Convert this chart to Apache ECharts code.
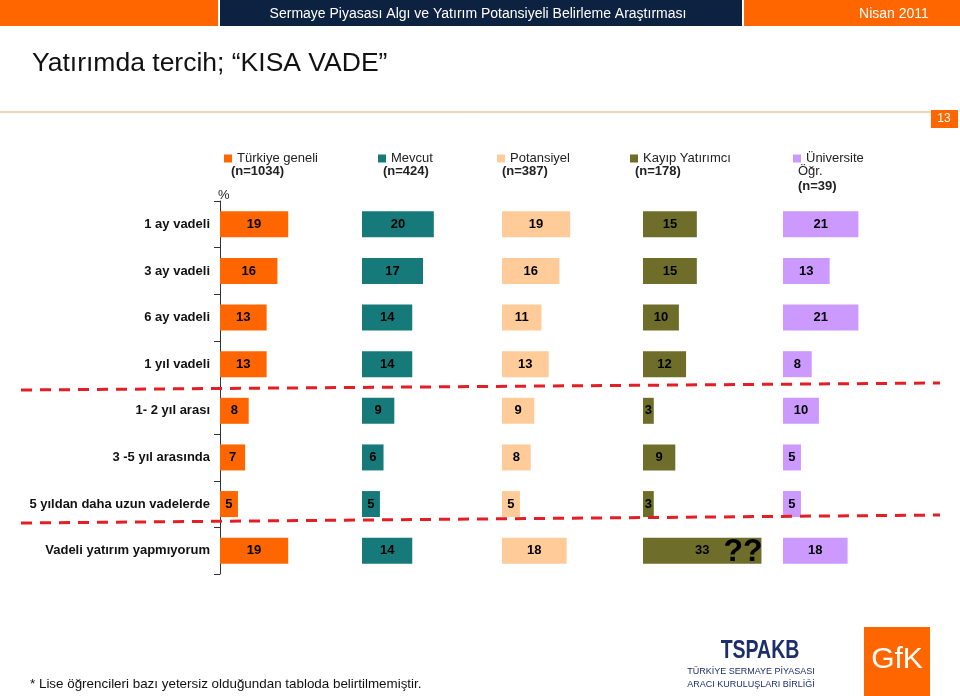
<!DOCTYPE html>
<html>
<head>
<meta charset="utf-8">
<script src="https://cdn.jsdelivr.net/npm/echarts@6.0.0/dist/echarts.min.js"></script>
<style>
  body { margin: 0; background: #fff; }
  #myChart { width: 960px; height: 696px; }
</style>
</head>
<body>
<div id="myChart"></div>
<script>
// kategoriler (yukaridan asagi)
var categories = ['1 ay vadeli', '3 ay vadeli', '6 ay vadeli', '1 yıl vadeli', '1- 2 yıl arası', '3 -5 yıl arasında', '5 yıldan daha uzun vadelerde', 'Vadeli yatırım yapmıyorum']
var groups = ['Türkiye geneli', 'Mevcut', 'Potansiyel', 'Kayıp Yatırımcı', 'Üniversite']
var groupN = ['(n=1034)', '(n=424)', '(n=387)', '(n=178)', '(n=39)']
var turkiyeGeneli = [19, 16, 13, 13, 8, 7, 5, 19]
var mevcut = [20, 17, 14, 14, 9, 6, 5, 14]
var potansiyel = [19, 16, 11, 13, 9, 8, 5, 18]
var kayipYatirimci = [15, 15, 10, 12, 3, 9, 3, 33]
var universite = [21, 13, 21, 8, 10, 5, 5, 18]
var colors = ['#FF6600', '#167A7A', '#FFCC99', '#6E6E2A', '#CC99FF']

var seriesData = [turkiyeGeneli, mevcut, potansiyel, kayipYatirimci, universite]
var panelLeft = [220, 362, 502, 643, 783]
var legendLeft = [219, 373, 492, 625, 788]
var font = 'Arial, "Liberation Sans", sans-serif'

var grids = []
var xAxes = []
var yAxes = []
var series = []
var legends = []
for (var i = 0; i < groups.length; i++) {
  grids.push({ left: panelLeft[i], top: 201, width: 140, height: 373 })
  xAxes.push({ gridIndex: i, type: 'value', min: 0, max: 39, show: false })
  if (i === 0) {
    yAxes.push({
      gridIndex: i,
      type: 'category',
      data: categories,
      inverse: true,
      axisLine: { show: true, lineStyle: { color: '#333', width: 1 } },
      axisTick: { show: true, inside: false, length: 6, interval: 0, lineStyle: { color: '#333', width: 1 } },
      axisLabel: { margin: 10, fontSize: 13, fontWeight: 'bold', color: '#111', fontFamily: font }
    })
  } else {
    yAxes.push({ gridIndex: i, type: 'category', data: categories, inverse: true, show: false })
  }
  series.push({
    name: groups[i],
    type: 'bar',
    xAxisIndex: i,
    yAxisIndex: i,
    barWidth: 26,
    itemStyle: { color: colors[i] },
    label: {
      show: true,
      position: 'inside',
      color: '#000',
      fontSize: 13,
      fontWeight: 'bold',
      fontFamily: font
    },
    data: seriesData[i]
  })
  legends.push({
    data: [groups[i]],
    left: legendLeft[i],
    top: 147,
    icon: 'rect',
    itemWidth: 8,
    itemHeight: 8,
    selectedMode: false,
    textStyle: { fontSize: 13, color: '#222', fontFamily: font }
  })
}

var graphic = [
  // ust baslik seridi
  { type: 'rect', shape: { x: 0, y: 0, width: 218, height: 26 }, style: { fill: '#FF6600' } },
  { type: 'rect', shape: { x: 220, y: 0, width: 522, height: 26 }, style: { fill: '#0D2240' } },
  { type: 'rect', shape: { x: 744, y: 0, width: 216, height: 26 }, style: { fill: '#FF6600' } },
  { type: 'text', x: 478, y: 14, style: { text: 'Sermaye Piyasası Algı ve Yatırım Potansiyeli Belirleme Araştırması', fill: '#fff', font: '14px ' + font, textAlign: 'center', textVerticalAlign: 'middle' } },
  { type: 'text', x: 894, y: 14, style: { text: 'Nisan 2011', fill: '#fff', font: '14px ' + font, textAlign: 'center', textVerticalAlign: 'middle' } },
  { type: 'text', x: 32, y: 64, style: { text: 'Yatırımda tercih; “KISA VADE”', fill: '#111', font: '26.5px ' + font, textVerticalAlign: 'middle' } },
  { type: 'line', shape: { x1: 0, y1: 112, x2: 931, y2: 112 }, style: { stroke: '#D9A877', lineWidth: 1 } },
  { type: 'rect', shape: { x: 931, y: 110, width: 27, height: 18 }, style: { fill: '#FF6600' } },
  { type: 'text', x: 944, y: 119, style: { text: '13', fill: '#fff', font: '12px ' + font, textAlign: 'center', textVerticalAlign: 'middle' } },
  { type: 'text', x: 218, y: 195, style: { text: '%', fill: '#222', font: '13px ' + font, textVerticalAlign: 'middle' } },
  // legend ikinci satirlar
  { type: 'text', x: 231, y: 171, style: { text: groupN[0], fill: '#222', font: 'bold 13px ' + font, textVerticalAlign: 'middle' } },
  { type: 'text', x: 383, y: 171, style: { text: groupN[1], fill: '#222', font: 'bold 13px ' + font, textVerticalAlign: 'middle' } },
  { type: 'text', x: 502, y: 171, style: { text: groupN[2], fill: '#222', font: 'bold 13px ' + font, textVerticalAlign: 'middle' } },
  { type: 'text', x: 635, y: 171, style: { text: groupN[3], fill: '#222', font: 'bold 13px ' + font, textVerticalAlign: 'middle' } },
  { type: 'text', x: 798, y: 171, style: { text: 'Öğr.', fill: '#222', font: '13px ' + font, textVerticalAlign: 'middle' } },
  { type: 'text', x: 798, y: 186, style: { text: groupN[4], fill: '#222', font: 'bold 13px ' + font, textVerticalAlign: 'middle' } },
  // kirmizi kesikli cizgiler
  { type: 'line', z: 100, shape: { x1: 21, y1: 390, x2: 940, y2: 383 }, style: { stroke: '#E31E24', lineWidth: 3, lineDash: [11, 8] } },
  { type: 'line', z: 100, shape: { x1: 21, y1: 523, x2: 940, y2: 515 }, style: { stroke: '#E31E24', lineWidth: 3, lineDash: [11, 8] } },
  { type: 'text', z: 100, x: 743, y: 552, style: { text: '??', fill: '#000', font: 'bold 32px ' + font, textAlign: 'center', textVerticalAlign: 'middle' } },
  // dipnot
  { type: 'text', x: 30, y: 684, style: { text: '* Lise öğrencileri bazı yetersiz olduğundan tabloda belirtilmemiştir.', fill: '#111', font: '13.4px ' + font, textVerticalAlign: 'middle' } },
  // logolar
  { type: 'text', x: 760, y: 651, scaleX: 0.78, style: { text: 'TSPAKB', fill: '#1C2F6B', font: 'bold 25px ' + font, textAlign: 'center', textVerticalAlign: 'middle' } },
  { type: 'text', x: 751, y: 672, style: { text: 'TÜRKİYE SERMAYE PİYASASI', fill: '#1C2F6B', font: '9px ' + font, textAlign: 'center', textVerticalAlign: 'middle' } },
  { type: 'text', x: 751, y: 685, style: { text: 'ARACI KURULUŞLARI BİRLİĞİ', fill: '#1C2F6B', font: '9px ' + font, textAlign: 'center', textVerticalAlign: 'middle' } },
  { type: 'rect', shape: { x: 864, y: 627, width: 66, height: 69 }, style: { fill: '#FF6600' } },
  { type: 'text', x: 897, y: 660, style: { text: 'GfK', fill: '#fff', font: '30px ' + font, textAlign: 'center', textVerticalAlign: 'middle' } }
]

var myChart = echarts.init(document.getElementById('myChart'))
var option = {
  animation: false,
  color: colors,
  legend: legends,
  grid: grids,
  xAxis: xAxes,
  yAxis: yAxes,
  series: series,
  graphic: graphic
}
myChart.setOption(option)
</script>
</body>
</html>
